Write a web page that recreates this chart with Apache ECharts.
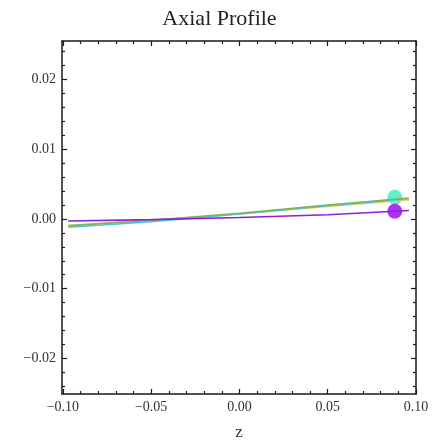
<!DOCTYPE html>
<html>
<head>
<meta charset="utf-8">
<script src="https://cdn.jsdelivr.net/npm/echarts@6/dist/echarts.min.js"></script>
<style>
html,body{margin:0;padding:0;background:#fff;}
#chart{width:439px;height:440px;}
</style>
</head>
<body>
<div id="chart"></div>
<script>
// Data
var zValues = [-0.097, -0.05, 0.0, 0.05, 0.096];
var purpleValues = [-0.0003, -0.0001, 0.0002, 0.0006, 0.0012];
var yellowValues = [-0.0009, -0.0002, 0.0007, 0.0018, 0.0027];
var greenValues  = [-0.0010, -0.0002, 0.0008, 0.0020, 0.0030];
var cyanValues   = [-0.0012, -0.0004, 0.0007, 0.0019, 0.0029];
var dotZ = [0.088, 0.088];
var dotValues = [0.0031, 0.0011];
var xMajorTicks = [-0.1, -0.05, 0, 0.05, 0.1];
var xMinorTicks = [-0.09,-0.08,-0.07,-0.06,-0.04,-0.03,-0.02,-0.01,0.01,0.02,0.03,0.04,0.06,0.07,0.08,0.09];
var yMajorTicks = [-0.02, -0.01, 0, 0.01, 0.02];
var yMinorTicks = [-0.024,-0.022,-0.018,-0.016,-0.014,-0.012,-0.008,-0.006,-0.004,-0.002,0.002,0.004,0.006,0.008,0.012,0.014,0.016,0.018,0.022,0.024];

function pairs(xs, ys){ return xs.map(function(x,i){return [x, ys[i]];}); }
function fmt(v){ return (v < 0 ? '\u2212' : '') + Math.abs(v).toFixed(2); }

var FONT = '"Liberation Serif", "DejaVu Serif", serif';
var lineCol = '#1a1a1a';
var xMin = -0.1005, xMax = 0.1, yMin = -0.0251, yMax = 0.0255;

function xAx(pos, ticks, len, labels, line){
  return {
    type: 'value', position: pos, min: xMin, max: xMax,
    splitLine: {show:false},
    axisLine: {show: line, onZero:false, lineStyle:{color:lineCol, width:1.5}},
    axisTick: {show:true, inside:true, length:len, customValues: ticks, lineStyle:{color:lineCol, width:1.2}},
    axisLabel: {show: labels, customValues: ticks, formatter: fmt, fontFamily: FONT, fontSize: 14, color:'#333', margin: 6}
  };
}
function yAx(pos, ticks, len, labels, line){
  return {
    type: 'value', position: pos, min: yMin, max: yMax,
    splitLine: {show:false},
    axisLine: {show: line, onZero:false, lineStyle:{color:lineCol, width:1.5}},
    axisTick: {show:true, inside:true, length:len, customValues: ticks, lineStyle:{color:lineCol, width:1.2}},
    axisLabel: {show: labels, customValues: ticks, formatter: fmt, fontFamily: FONT, fontSize: 14, color:'#333', margin: 6}
  };
}

var xAxes = [
  xAx('bottom', xMajorTicks, 5, true, true),
  xAx('bottom', xMinorTicks, 3, false, false),
  xAx('top', xMajorTicks, 5, false, true),
  xAx('top', xMinorTicks, 3, false, false)
];
xAxes[0].name = 'z';
xAxes[0].nameLocation = 'middle';
xAxes[0].nameGap = 30;
xAxes[0].nameTextStyle = {fontFamily: FONT, fontSize: 17, color:'#333'};

var yAxes = [
  yAx('left', yMajorTicks, 5, true, true),
  yAx('left', yMinorTicks, 3, false, false),
  yAx('right', yMajorTicks, 5, false, true),
  yAx('right', yMinorTicks, 3, false, false)
];

function lineSeries(vals, color){
  return {type:'line', xAxisIndex:0, yAxisIndex:0, data: pairs(zValues, vals), showSymbol:false,
    lineStyle:{color:color, width:1.6}, itemStyle:{color:color}, silent:true, animation:false};
}

var chart = echarts.init(document.getElementById('chart'), null, {renderer:'canvas'});
chart.setOption({
  backgroundColor: '#fff',
  animation: false,
  title: {text: 'Axial Profile', left: 'center', top: 3,
    textStyle: {fontFamily: FONT, fontSize: 22, fontWeight: 'normal', color: '#222'}},
  grid: {left: 62, right: 23, top: 41, bottom: 46, containLabel: false, outerBoundsMode: 'none'},
  xAxis: xAxes,
  yAxis: yAxes,
  series: [
    lineSeries(yellowValues, '#e6cf6a'),
    lineSeries(cyanValues, '#45c4e0'),
    lineSeries(greenValues, '#7db35c'),
    lineSeries(purpleValues, '#8f1fd6'),
    {type:'scatter', xAxisIndex:0, yAxisIndex:0, symbolSize: 15, animation:false,
     data: [
       {value:[dotZ[0], dotValues[0]], itemStyle:{color:'#36ecb8'}},
       {value:[dotZ[1], dotValues[1]], itemStyle:{color:'#9a00ee'}}
     ]}
  ]
});
</script>
</body>
</html>
